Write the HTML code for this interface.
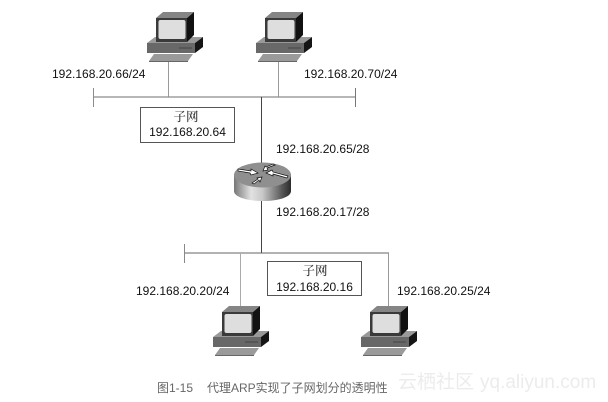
<!DOCTYPE html>
<html><head><meta charset="utf-8">
<style>
html,body{margin:0;padding:0;background:#fff;width:608px;height:402px;overflow:hidden}
svg{display:block;filter:blur(.25px)}
text{font-family:"Liberation Sans","Noto Sans CJK SC",sans-serif;fill:#111;font-size:12px}
.z{font-family:"Noto Serif CJK SC","Liberation Serif",serif;font-size:12.500px;font-weight:500;fill:#333}
</style></head>
<body>
<svg width="608" height="402" viewBox="0 0 608 402" xmlns="http://www.w3.org/2000/svg">
<defs>
<linearGradient id="r" x1="0" x2="1" y1="0" y2="0">
<stop offset="0" stop-color="#777"/><stop offset=".3" stop-color="#e2e2e2"/><stop offset=".5" stop-color="#c8c8c8"/><stop offset=".85" stop-color="#555"/><stop offset="1" stop-color="#2c2c2c"/>
</linearGradient>
<g id="pc">
<!-- keyboard -->
<polygon points="7,43 46,43 41,50 2,50" fill="#9a9a9a"/>
<polygon points="2,50 41,50 41,51 2,51" fill="#666"/>
<!-- base -->
<polygon points="8,26 56,26 48,32 0,32" fill="#999"/>
<polygon points="0,32 48,32 48,42 0,42" fill="#686868"/>
<polygon points="48,32 56,26 56,36 48,42" fill="#151515"/>
<line x1="32" y1="37" x2="45" y2="37" stroke="#3c3c3c" stroke-width=".8"/>
<!-- monitor -->
<polygon points="9,7 16,1 47,1 40,7" fill="#858585"/>
<polygon points="40,7 47,1 47,24 40,31" fill="#111"/>
<rect x="9" y="7" width="31" height="24" fill="#3a3a3a"/>
<rect x="11.500" y="9" width="27" height="19" rx="2" fill="#dedede"/>
</g>
</defs>

<!-- top network -->
<g fill="none">
<line x1="168.500" y1="61" x2="168.500" y2="97" stroke="#9a9a9a" stroke-width="1"/>
<line x1="278.500" y1="61" x2="278.500" y2="97" stroke="#9a9a9a" stroke-width="1"/>
<line x1="93" y1="97" x2="355" y2="97" stroke="#8c8c8c" stroke-width="1.300"/>
<line x1="93.500" y1="88" x2="93.500" y2="107" stroke="#8c8c8c" stroke-width="1"/>
<line x1="355.500" y1="88" x2="355.500" y2="107" stroke="#777" stroke-width="1"/>
<line x1="261.500" y1="97" x2="261.500" y2="165" stroke="#444" stroke-width="1"/>
<line x1="261.500" y1="198" x2="261.500" y2="253" stroke="#444" stroke-width="1"/>
<!-- bottom network -->
<line x1="184" y1="253" x2="389" y2="253" stroke="#666" stroke-width="1.100"/>
<line x1="184.500" y1="244" x2="184.500" y2="263" stroke="#888" stroke-width="1"/>
<line x1="240.500" y1="253" x2="240.500" y2="308" stroke="#aaa" stroke-width="1"/>
<line x1="388.500" y1="253" x2="388.500" y2="308" stroke="#999" stroke-width="1"/>
</g>

<use href="#pc" x="147" y="11"/>
<use href="#pc" x="256" y="11"/>
<use href="#pc" x="213" y="305"/>
<use href="#pc" x="361" y="305"/>

<!-- router -->
<path d="M234 175 V191 C234 197 247 201 263 201 C279 201 291 197 291 191 V175 Z" fill="url(#r)"/>
<ellipse cx="262.500" cy="175" rx="28.500" ry="12.500" fill="#8f8f8f"/>
<g fill="#fff" stroke="#111" stroke-width=".7">
<polygon points="238,169 251,171 251,169 258,173 251,175 250,173 238,171"/>
<polygon points="287,178 273,174 273,176 266,173 272,170 273,172 288,176"/>
<polygon points="275,165 267,168 268,170 263,171 265,166 266,167 273,164"/>
<polygon points="252,183 258,179 257,178 262,177 260,182 259,180 254,184"/>
</g>

<!-- subnet boxes -->
<rect x="140.500" y="107.500" width="94" height="35" fill="#fff" stroke="#555" stroke-width="1"/>
<rect x="267.500" y="261.500" width="94" height="34" fill="#fff" stroke="#555" stroke-width="1"/>
<text class="z" x="186" y="121" text-anchor="middle">子网</text>
<text x="187.500" y="136" text-anchor="middle">192.168.20.64</text>
<text class="z" x="315" y="275" text-anchor="middle">子网</text>
<text x="314.500" y="291" text-anchor="middle">192.168.20.16</text>

<!-- labels -->
<text x="52" y="78">192.168.20.66/24</text>
<text x="304" y="78">192.168.20.70/24</text>
<text x="276" y="153">192.168.20.65/28</text>
<text x="276" y="216">192.168.20.17/28</text>
<text x="136" y="295">192.168.20.20/24</text>
<text x="397" y="295">192.168.20.25/24</text>

<!-- caption -->
<text x="157" y="392" style="font-size:12px;fill:#666">图1-15</text>
<text x="207" y="392" style="font-size:12px;fill:#666">代理ARP实现了子网划分的透明性</text>
<!-- watermark -->
<text x="398" y="388" style="font-size:19px;fill:#ececec">云栖社区</text>
<text x="480" y="388" style="font-size:19px;fill:#ececec">yq.aliyun.com</text>
</svg>
</body></html>
